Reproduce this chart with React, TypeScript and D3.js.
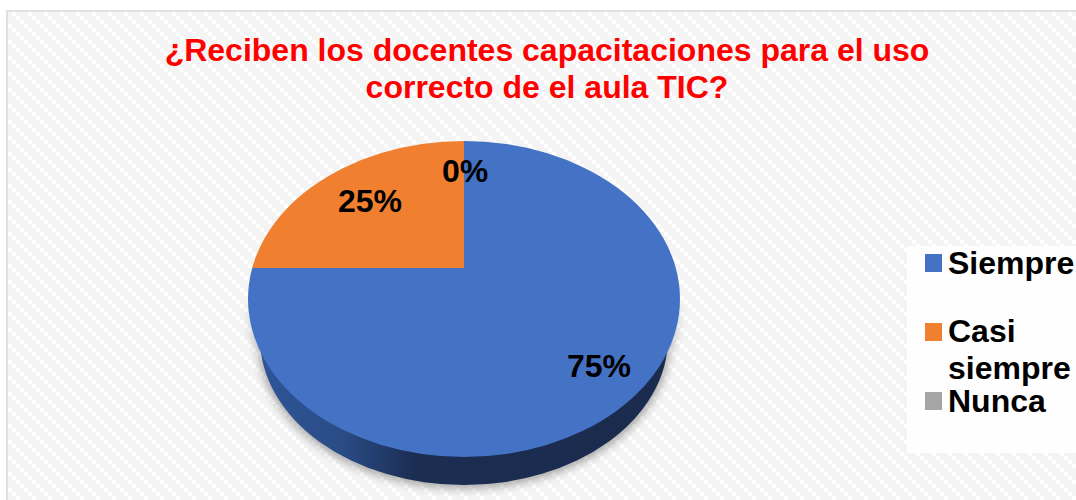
import React from "react";
import * as d3 from "d3";

const categories = ["Siempre", "Casi siempre", "Nunca"];
const values = [75, 25, 0];
const colors = ["#4472c4", "#f07f30", "#a5a5a5"];
const titleLines = ["¿Reciben los docentes capacitaciones para el uso", "correcto de el aula TIC?"];
const legendLines = [["Siempre"], ["Casi", "siempre"], ["Nunca"]];
const legendY = [263, 331, 401];
const swatchY = [263, 332, 401];
const labelPos = [[599, 366], [370, 201], [465, 171]];

const FONT = "'Liberation Sans', Arial, sans-serif";
// top face outline, perspective pivot, and the narrower lower rim
const cx = 464, cy = 299, rx = 216, ry = 158, pivotY = 268;
const rimCy = 338, rimRx = 204, rimRy = 147;

export default function App() {
  const pie = d3.pie<number>().sort(null).startAngle(0).endAngle(2 * Math.PI);
  const arcs = pie(values);
  const arc = d3.arc<d3.PieArcDatum<number>>().innerRadius(0).outerRadius(rx * 2);
  const tile = d3.range(4).flatMap((i) => [
    { x: (i * 4) % 16, y: i * 4 },
    { x: (i * 4 + 4) % 16, y: i * 4 },
    { x: (i * 4 + 8) % 16, y: i * 4 },
  ]);
  return (
    <svg width={1076} height={500} style={{ position: "absolute", left: 0, top: 0, display: "block" }}>
      <defs>
        <pattern id="weave" x="8" y="4" width="16" height="16" patternUnits="userSpaceOnUse">
          <rect width="16" height="16" fill="#ffffff" />
          <g shapeRendering="crispEdges" fill="#f4f4f4">
            {tile.map((t, i) => (
              <rect key={i} x={t.x} y={t.y} width={4} height={4} />
            ))}
          </g>
        </pattern>
        <linearGradient id="side" x1="0" x2="1" y1="0" y2="0">
          <stop offset="0" stopColor="#2f5597" />
          <stop offset="0.2" stopColor="#2a4c86" />
          <stop offset="0.38" stopColor="#1b2d52" />
          <stop offset="1" stopColor="#1a2b4d" />
        </linearGradient>
        <linearGradient id="fade" x1="0" x2="0" y1="0" y2="1">
          <stop offset="0" stopColor="#000" />
          <stop offset="1" stopColor="#fff" />
        </linearGradient>
        <filter id="blur" x="-10%" y="-10%" width="120%" height="120%">
          <feGaussianBlur stdDeviation="4" />
        </filter>
        <mask id="shadowMask" maskUnits="userSpaceOnUse" x={200} y={0} width={540} height={500}>
          <rect x={200} y={300} width={540} height={60} fill="url(#fade)" />
          <rect x={200} y={360} width={540} height={140} fill="#fff" />
        </mask>
        <clipPath id="face">
          <ellipse cx={cx} cy={cy} rx={rx} ry={ry} />
        </clipPath>
      </defs>
      <rect width={1076} height={500} fill="#ffffff" />
      <rect x={7} y={11} width={1080} height={500} fill="url(#weave)" stroke="#e0e0e0" strokeWidth={2} />
      <rect x={907} y={246} width={169} height={207} fill="#ffffff" fillOpacity={0.9} />

      <g fontFamily={FONT} fontWeight="bold" fontSize={32} fill="#ff0000" textAnchor="middle">
        {titleLines.map((t, i) => (
          <text key={i} x={547} y={61 + i * 37}>{t}</text>
        ))}
      </g>

      <g mask="url(#shadowMask)">
        <g filter="url(#blur)" fill="#777" opacity={0.6}>
          <ellipse cx={cx} cy={rimCy + 4} rx={rimRx + 2} ry={rimRy} />
          <ellipse cx={cx} cy={cy + 4} rx={rx + 1} ry={ry} />
        </g>
      </g>
      <ellipse cx={cx} cy={rimCy} rx={rimRx} ry={rimRy} fill="url(#side)" />
      <g clipPath="url(#face)">
        <g transform={`translate(${cx},${pivotY})`}>
          {arcs.map((a, i) => (
            <path key={i} d={arc(a) || ""} fill={colors[i]} />
          ))}
        </g>
      </g>

      <g fontFamily={FONT} fontWeight="bold" fontSize={32} fill="#000" textAnchor="middle">
        {values.map((v, i) => (
          <text key={i} x={labelPos[i][0]} y={labelPos[i][1]} dy="0.35em">{v}%</text>
        ))}
      </g>

      <g fontFamily={FONT} fontWeight="bold" fontSize={32} fill="#000">
        {categories.map((c, i) => (
          <g key={c}>
            <rect x={925} y={swatchY[i] - 9} width={17} height={18} fill={colors[i]} />
            {legendLines[i].map((l, j) => (
              <text key={l} x={948} y={legendY[i] + j * 37} dy="0.35em">{l}</text>
            ))}
          </g>
        ))}
      </g>
    </svg>
  );
}
